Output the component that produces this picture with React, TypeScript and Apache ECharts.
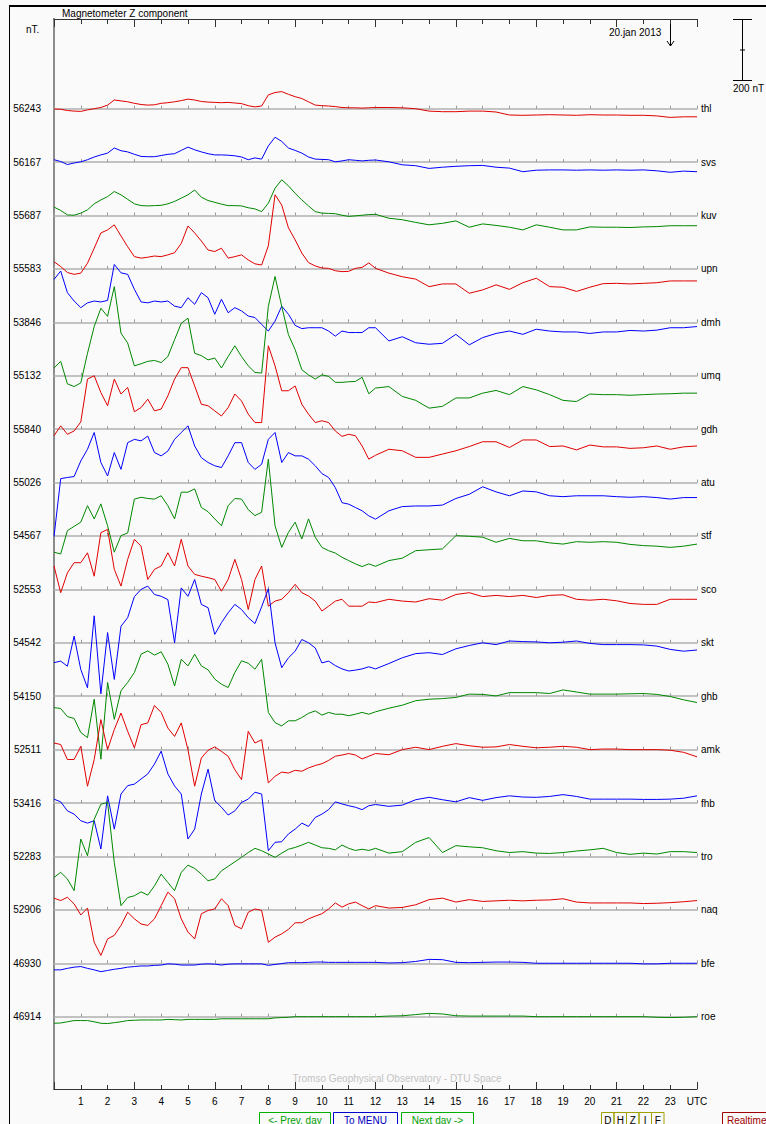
import React, { useEffect, useRef } from "react";
import * as echarts from "echarts";

// ---- data (nT deviation from each station's baseline) ----
const HOURS = [
  0, 0.25, 0.5, 0.75, 1, 1.25, 1.5, 1.75, 2, 2.25, 2.5, 2.75, 3, 3.25, 3.5, 3.75,
  4, 4.25, 4.5, 4.75, 5, 5.25, 5.5, 5.75, 6, 6.25, 6.5, 6.75, 7, 7.25, 7.5, 7.75,
  8, 8.25, 8.5, 8.75, 9, 9.25, 9.5, 9.75, 10, 10.25, 10.5, 10.75, 11, 11.25, 11.5, 11.75,
  12, 12.5, 13, 13.5, 14, 14.5, 15, 15.5, 16, 16.5, 17, 17.5, 18, 18.5, 19, 19.5,
  20, 20.5, 21, 21.5, 22, 22.5, 23, 23.5, 24,
];

const STATIONS = ["thl", "svs", "kuv", "upn", "dmh", "umq", "gdh", "atu", "stf", "sco", "skt", "ghb", "amk", "fhb", "tro", "naq", "bfe", "roe"];
const BASELINES = ["56243", "56167", "55687", "55583", "53846", "55132", "55840", "55026", "54567", "52553", "54542", "54150", "52511", "53416", "52283", "52906", "46930", "46914"];

const THL = [-1, -2, -6, -8, -9, -4, 0, 4, 12, 29, 26, 23, 18, 14, 12, 13, 18, 20, 23, 27, 32, 29, 24, 22, 21, 20, 21, 19, 17, 10, 6, 9, 46, 54, 57, 48, 40, 34, 23, 12, 10, 9, 7, 4, 3, 3, 2, 3, 4,
  4, 3, 0, -8, -10, -10, -8, -8, -11, -21, -22, -21, -20, -21, -22, -20, -21, -21, -22, -22, -24, -29, -27, -27];
const SVS = [8, 2, -8, -3, 1, 8, 17, 24, 30, 47, 38, 34, 26, 19, 18, 18, 22, 26, 28, 39, 50, 41, 34, 28, 24, 24, 23, 21, 17, 8, 14, 10, 54, 83, 69, 47, 39, 30, 17, 10, 9, 8, 1, 4, 8, 6, 4, 6, 7,
  1, -9, -12, -21, -17, -14, -12, -11, -17, -20, -32, -27, -26, -26, -27, -26, -27, -26, -27, -26, -29, -34, -30, -32];
const KUV = [28, 17, 2, 1, 8, 19, 39, 52, 63, 80, 69, 54, 39, 33, 32, 33, 34, 39, 47, 58, 69, 85, 61, 50, 44, 38, 33, 33, 32, 26, 22, 13, 41, 91, 119, 99, 74, 52, 32, 13, 8, 7, 6, 1, -3, -1, 1, 3, 4,
  -9, -14, -23, -31, -26, -18, -39, -28, -33, -39, -48, -31, -39, -48, -48, -38, -39, -39, -40, -38, -37, -34, -34, -34];
const UPN = [24, 8, -12, -18, -14, 19, 69, 120, 130, 147, 110, 74, 41, 36, 39, 43, 41, 47, 54, 85, 143, 120, 93, 63, 58, 69, 36, 41, 47, 30, 17, 13, 77, 247, 213, 137, 97, 53, 21, 10, 3, 2, -6, -9, -8, 2, 5, 20, 2,
  -14, -26, -34, -59, -50, -50, -81, -70, -53, -68, -46, -31, -59, -61, -75, -61, -49, -48, -50, -48, -46, -40, -40, -40];
const DMH = [143, 171, 99, 71, 49, 65, 71, 68, 73, 193, 165, 160, 110, 68, 65, 71, 68, 71, 54, 49, 82, 60, 99, 82, 27, 77, 32, 49, 38, 21, 16, -7, -29, 4, 54, 27, -10, -21, -18, -18, -18, -29, -46, -29, -34, -34, -34, -18, -18,
  -62, -48, -68, -73, -70, -40, -75, -51, -37, -29, -40, -23, -29, -32, -32, -37, -32, -32, -27, -29, -26, -18, -18, -14];
const UMQ = [26, 48, -27, -36, -24, 75, 164, 225, 198, 297, 142, 109, 33, 40, 48, 51, 44, 64, 120, 175, 192, 75, 67, 53, 59, 26, 64, 100, 64, 33, 11, 9, 231, 331, 231, 137, 87, 20, 3, -11, 3, -2, -22, -22, -20, -19, -5, -60, -41,
  -36, -69, -82, -108, -102, -74, -74, -58, -49, -63, -36, -47, -63, -82, -86, -61, -63, -63, -65, -63, -61, -60, -58, -58];
const GDH = [-22, 11, -17, -6, 24, 167, 178, 122, 78, 167, 117, 139, 58, 72, 100, 61, 67, 111, 167, 205, 205, 144, 83, 78, 61, 44, 72, 117, 94, 50, 22, 22, 278, 211, 128, 128, 144, 83, 50, 22, 28, 22, -6, -24, -17, -22, -56, -100, -87,
  -67, -72, -94, -94, -83, -72, -58, -42, -42, -61, -36, -36, -58, -56, -69, -53, -59, -59, -64, -62, -56, -67, -59, -56];
const ATU = [-180, 13, 17, 20, 72, 111, 167, 67, 22, 100, 44, 133, 144, 139, 155, 100, 89, 105, 144, 167, 189, 122, 83, 67, 56, 50, 89, 133, 133, 67, 44, 61, 144, 167, 67, 100, 89, 89, 78, 56, 30, 17, -17, -67, -72, -83, -94, -111, -122,
  -94, -80, -78, -78, -75, -53, -39, -14, -31, -44, -28, -31, -44, -47, -44, -44, -44, -47, -49, -47, -50, -55, -50, -50];
const STF = [-54, -60, 18, 32, 46, 101, 57, 107, 34, -54, 1, 10, 123, 129, 125, 123, 134, 101, 57, 146, 146, 157, 95, 81, 57, 34, 101, 125, 123, 88, 68, 79, 256, 34, -38, 12, 46, -10, 57, -4, -38, -49, -57, -71, -82, -93, -102, -93, -101,
  -82, -74, -49, -46, -43, 1, -1, -4, -21, -8, -16, -16, -23, -27, -19, -21, -19, -21, -28, -32, -34, -38, -34, -27];
const SCO = [78, -11, 55, 89, 89, 122, 44, 189, 200, 67, 11, 100, 167, 144, 33, 67, 78, 122, 78, 167, 78, 50, 44, 39, 33, -6, 33, 100, 33, -67, 33, 78, -56, -39, -33, -11, 17, -11, -22, -39, -72, -56, -39, -33, -56, -56, -56, -42, -44,
  -33, -39, -42, -31, -36, -17, -11, -24, -20, -24, -20, -27, -20, -18, -33, -36, -33, -38, -47, -50, -50, -33, -33, -33];
const SKT = [-66, -61, -78, 22, -89, -150, 90, -170, 34, -122, 55, 84, 154, 178, 189, 161, 155, 144, 0, 183, 155, 211, 128, 117, 28, 67, 100, 128, 111, 84, 64, 120, 180, 0, -83, -50, -28, 11, 0, -17, -67, -61, -76, -87, -94, -91, -87, -80, -87,
  -69, -50, -36, -33, -39, -20, -9, 0, -6, 6, 4, 3, 0, 2, 6, -2, -6, -6, -6, -7, -11, -22, -28, -24];
const GHB = [-38, -41, -68, -74, -121, -138, -10, -210, 46, -77, 18, 46, 79, 140, 151, 137, 148, 107, 34, 123, 101, 140, 101, 88, 57, 40, 29, 79, 118, 110, 90, 123, -54, -88, -99, -82, -82, -71, -57, -49, -63, -54, -60, -60, -65, -60, -54, -60, -52,
  -40, -30, -15, -10, -8, -4, 7, 6, 1, 12, 12, 12, 9, 21, 14, 7, 7, 7, 8, 9, 6, -1, -12, -21];
const AMK = [22, 17, -33, -33, 11, -122, -33, 100, 0, 67, 122, 61, 6, 83, 89, 147, 124, 72, 44, 89, 0, -122, -28, -2, 9, -6, -22, -67, -100, 61, 22, 33, -111, -89, -75, -78, -69, -72, -61, -53, -47, -36, -22, -18, -13, -18, -31, -22, -13,
  -17, 0, 8, 0, 11, 20, 13, 8, 9, 17, 11, 6, 8, 11, 8, 0, 2, 2, 0, 0, 0, -2, -9, -24];
const FHB = [13, 4, -26, -37, -59, -67, -59, -153, 24, -87, 30, 58, 63, 80, 97, 130, 173, 97, 57, 30, -120, -87, 30, 113, 8, -14, -40, -26, 2, 13, 36, 30, -159, -131, -129, -103, -87, -67, -78, -48, -37, -22, 4, -3, -9, -14, -22, -9, -5,
  -11, -7, 11, 19, 11, 4, 18, 9, 18, 24, 20, 19, 22, 28, 22, 13, 13, 13, 13, 12, 12, 13, 16, 24];
const TRO = [-70, -53, -75, -114, 58, 2, 124, 174, 180, -20, -164, -137, -131, -118, -129, -98, -59, -87, -114, -53, -29, -40, -59, -81, -75, -48, -33, -18, -3, 13, 27, 19, 8, -3, 11, 24, 30, 38, 47, 38, 29, 27, 22, 38, 27, 20, 24, 20, 27,
  11, 16, 47, 63, 13, 36, 32, 29, 19, 13, 16, 11, 10, 13, 18, 22, 27, 13, 7, 11, 8, 16, 16, 13];
const NAQ = [39, 31, 42, 20, -17, 6, -108, -152, -97, -85, -52, -8, -30, -47, -52, -30, 14, 59, 37, -30, -74, -97, -13, -2, 3, 37, 14, -52, -63, -8, 3, -2, -108, -91, -80, -65, -43, -43, -30, -21, -13, 3, 23, 9, 20, 26, 14, 3, 14,
  6, 8, 17, 34, 39, 26, 34, 28, 30, 32, 30, 32, 33, 37, 26, 23, 23, 23, 23, 21, 22, 24, 27, 31];
const BFE = [-22, -22, -17, -13, -11, -17, -22, -28, -24, -20, -17, -13, -11, -9, -9, -7, -6, -2, -3, -6, -6, -6, -3, -2, -3, -6, -3, -2, -2, -2, -2, -2, -7, -4, -1, 2, 2, 2, 3, 4, 4, 3, 3, 3, 3, 3, 3, 3, 3,
  1, 2, 6, 13, 12, 3, 2, 3, 4, 4, 3, 0, 0, 0, 0, 0, 0, 0, 0, -2, -2, 0, 0, 0];
const ROE = [-22, -21, -17, -13, -13, -13, -17, -22, -23, -20, -17, -13, -12, -11, -11, -11, -11, -9, -10, -11, -9, -9, -9, -9, -9, -7, -7, -7, -7, -7, -7, -7, -7, -4, -3, -2, 0, 0, 0, 0, 0, 0, 0, 0, 0, 0, 0, 0, 0,
  2, 3, 7, 11, 9, 3, 2, 2, 2, 2, 2, 0, 0, 0, 0, 0, 0, 0, 0, 0, -2, -3, -2, 0];

const SERIES_VALUES = [THL, SVS, KUV, UPN, DMH, UMQ, GDH, ATU, STF, SCO, SKT, GHB, AMK, FHB, TRO, NAQ, BFE, ROE];
const PALETTE = ["#e00000", "#0000ff", "#008800"];

// ---- layout ----
const PLOT_LEFT = 54;
const PLOT_WIDTH = 643;
const PLOT_TOP = 19;
const PLOT_HEIGHT = 1070;
const FIRST_BASE_Y = 108.7;
const ROW_STEP = 53.41;
const PX_PER_NT = 0.3;
const HALF_RANGE = 290;
const FONT = '10px "Liberation Sans", Arial, sans-serif';

function buildOption() {
  const grid: any[] = [
    { left: PLOT_LEFT, top: PLOT_TOP, width: PLOT_WIDTH, height: PLOT_HEIGHT },
  ];
  STATIONS.forEach((_, k) => {
    const base = FIRST_BASE_Y + k * ROW_STEP;
    grid.push({
      left: PLOT_LEFT,
      width: PLOT_WIDTH,
      top: base - HALF_RANGE * PX_PER_NT,
      height: 2 * HALF_RANGE * PX_PER_NT,
    });
  });

  const hourAxisBase = { type: "value", min: 0, max: 24, gridIndex: 0, splitLine: { show: false } };
  const xAxis: any[] = [
    {
      ...hourAxisBase,
      position: "bottom",
      interval: 1,
      axisLine: { show: true, lineStyle: { color: "#333", width: 1 } },
      axisTick: { show: true, inside: true, length: 4, lineStyle: { color: "#333" } },
      axisLabel: {
        show: true,
        margin: 7,
        color: "#000",
        fontSize: 10,
        fontFamily: "Liberation Sans",
        showMinLabel: true,
        showMaxLabel: true,
        formatter: (v: number) => (v === 0 ? "" : v === 24 ? "UTC" : String(v)),
      },
    },
    {
      ...hourAxisBase,
      position: "bottom",
      interval: 3,
      axisLine: { show: false },
      axisTick: { show: true, inside: true, length: 7, lineStyle: { color: "#333" } },
      axisLabel: { show: false },
    },
    {
      ...hourAxisBase,
      position: "top",
      interval: 1,
      axisLine: { show: true, lineStyle: { color: "#333", width: 1 } },
      axisTick: { show: true, inside: true, length: 5, lineStyle: { color: "#333" } },
      axisLabel: { show: false },
    },
    {
      ...hourAxisBase,
      position: "top",
      interval: 3,
      axisLine: { show: false },
      axisTick: { show: true, inside: true, length: 8, lineStyle: { color: "#333" } },
      axisLabel: { show: false },
    },
  ];
  STATIONS.forEach((_, k) => {
    xAxis.push({
      type: "value",
      gridIndex: k + 1,
      min: 0,
      max: 24,
      interval: 1,
      axisLine: { show: true, onZero: true, lineStyle: { color: "#b0b0b0", width: 1.5 } },
      axisTick: { show: true, inside: true, length: 3, lineStyle: { color: "#9a9a9a" } },
      axisLabel: { show: false },
      splitLine: { show: false },
    });
  });

  const yAxis: any[] = [
    {
      type: "value",
      gridIndex: 0,
      min: 0,
      max: 1,
      position: "left",
      axisLine: { show: true, lineStyle: { color: "#8c8c8c", width: 2 } },
      axisTick: { show: false },
      axisLabel: { show: false },
      splitLine: { show: false },
    },
    {
      type: "value",
      gridIndex: 0,
      min: 0,
      max: 1,
      position: "right",
      axisLine: { show: true, lineStyle: { color: "#8c8c8c", width: 2 } },
      axisTick: { show: false },
      axisLabel: { show: false },
      splitLine: { show: false },
    },
  ];
  STATIONS.forEach((name, k) => {
    yAxis.push({
      type: "value",
      gridIndex: k + 1,
      min: -HALF_RANGE,
      max: HALF_RANGE,
      position: "left",
      axisLine: { show: false },
      axisTick: { show: false },
      splitLine: { show: false },
      axisLabel: {
        show: true,
        customValues: [0],
        margin: 13,
        color: "#000",
        fontSize: 10,
        fontFamily: "Liberation Sans",
        showMinLabel: false,
        showMaxLabel: false,
        formatter: (v: number) => (v === 0 ? BASELINES[k] : ""),
      },
    });
    yAxis.push({
      type: "value",
      gridIndex: k + 1,
      min: -HALF_RANGE,
      max: HALF_RANGE,
      position: "right",
      axisLine: { show: false },
      axisTick: { show: false },
      splitLine: { show: false },
      axisLabel: {
        show: true,
        customValues: [0],
        margin: 4,
        color: "#000",
        fontSize: 10,
        fontFamily: "Liberation Sans",
        showMinLabel: false,
        showMaxLabel: false,
        formatter: (v: number) => (v === 0 ? name : ""),
      },
    });
  });

  const series = STATIONS.map((name, k) => ({
    name,
    type: "line",
    xAxisIndex: 4 + k,
    yAxisIndex: 2 + 2 * k,
    data: HOURS.map((h, i) => [h, SERIES_VALUES[k][i]]),
    showSymbol: false,
    symbol: "none",
    clip: false,
    silent: true,
    lineStyle: { color: PALETTE[k % 3], width: 1 },
    z: 5,
  }));

  const txt = (text: string, x: number, y: number, extra: any = {}) => ({
    type: "text",
    x,
    y,
    silent: true,
    style: { text, font: FONT, fill: "#000", textVerticalAlign: "middle", ...extra },
  });
  const ln = (x1: number, y1: number, x2: number, y2: number, stroke = "#000", lineWidth = 1) => ({
    type: "line",
    silent: true,
    shape: { x1, y1, x2, y2 },
    style: { stroke, lineWidth },
  });
  const box = (x: number, w: number, stroke: string) => ({
    type: "rect",
    silent: true,
    shape: { x, y: 1112.5, width: w, height: 14 },
    style: { fill: "none", stroke, lineWidth: 1 },
  });

  const graphic: any[] = [
    ln(9, 6, 766, 6, "#000", 2),
    ln(9.5, 6, 9.5, 1124, "#000", 1),
    txt("Magnetometer Z component", 62, 13),
    txt("nT.", 26, 29),
    txt("20.jan 2013", 609, 32),
    ln(670.5, 19, 670.5, 46),
    { type: "polyline", silent: true, shape: { points: [[667, 41], [670.5, 46], [674, 41]] }, style: { stroke: "#000", fill: "none", lineWidth: 1 } },
    ln(742.5, 19.5, 742.5, 80.5),
    ln(733, 19.5, 752, 19.5),
    ln(733, 80.5, 752, 80.5),
    ln(740, 50, 745, 50),
    txt("200 nT", 733, 88),
    txt("Tromso Geophysical Observatory - DTU Space", 397, 1078, { fill: "#c4c4c4", textAlign: "center" }),
    box(259.5, 71, "#00b000"),
    txt("<- Prev. day", 295, 1120, { fill: "#00a000", textAlign: "center" }),
    box(333.5, 64, "#0000d0"),
    txt("To MENU", 365.5, 1120, { fill: "#0000c0", textAlign: "center" }),
    box(401.5, 72, "#00b000"),
    txt("Next day ->", 437.5, 1120, { fill: "#00a000", textAlign: "center" }),
    box(722.5, 60, "#a00000"),
    txt("Realtime", 727, 1120, { fill: "#a00000" }),
  ];
  ["D", "H", "Z", "I", "F"].forEach((c, i) => {
    graphic.push(box(601.5 + i * 12.5, 12.5, "#a0a000"));
    graphic.push(txt(c, 607.75 + i * 12.5, 1120, { textAlign: "center" }));
  });

  return {
    animation: false,
    backgroundColor: "#fafafa",
    textStyle: { fontFamily: "Liberation Sans" },
    grid,
    xAxis,
    yAxis,
    series,
    graphic,
  };
}

export default function App() {
  const ref = useRef<HTMLDivElement>(null);
  useEffect(() => {
    if (!ref.current) return;
    const chart = echarts.init(ref.current, undefined, { renderer: "svg" });
    chart.setOption(buildOption() as any);
    return () => chart.dispose();
  }, []);
  return (
    <div
      ref={ref}
      style={{ position: "absolute", left: 0, top: 0, width: 766, height: 1124, background: "#fafafa" }}
    />
  );
}
